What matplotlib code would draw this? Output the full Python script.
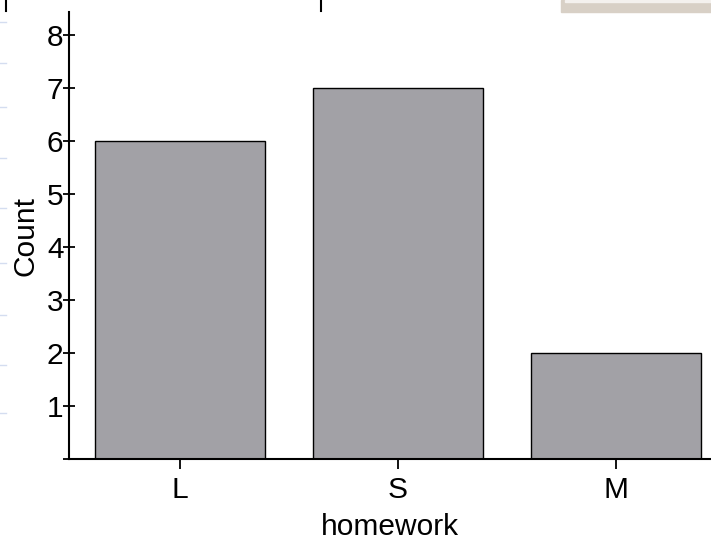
import matplotlib.pyplot as plt
from matplotlib.patches import Rectangle
from matplotlib.lines import Line2D

plt.rcParams['font.family'] = ['Liberation Sans', 'DejaVu Sans']

categories = ['L', 'S', 'M']
counts = [6, 7, 2]
y_ticks = [0, 1, 2, 3, 4, 5, 6, 7, 8]
y_tick_labels = ['', '1', '2', '3', '4', '5', '6', '7', '8']

fig = plt.figure(figsize=(7.11, 5.45), dpi=100)
ax = fig.add_axes([69 / 711, 1 - 459 / 545, 642 / 711, 447 / 545])

ax.bar(range(len(categories)), counts, width=0.78, color='#a2a1a6',
       edgecolor='black', linewidth=1)

ax.set_xlim(-0.509, 2.436)
ax.set_ylim(0, 8.43)
ax.set_xticks(range(len(categories)))
ax.set_xticklabels(categories)
ax.set_yticks(y_ticks)
ax.set_yticklabels(y_tick_labels)

for s in ['top', 'right']:
    ax.spines[s].set_visible(False)
for s in ['left', 'bottom']:
    ax.spines[s].set_linewidth(1.5)

ax.tick_params(axis='y', direction='inout', length=8, width=1.3, labelsize=21.5, pad=0)
ax.tick_params(axis='x', direction='out', length=7, width=1.3, labelsize=21.5, pad=5)
ax.set_ylabel('Count', fontsize=21.5, labelpad=5)
ax.set_xlabel('homework', fontsize=21.5, labelpad=7)

# bits of the surrounding window cropped into the picture
fig.patches.append(Rectangle((561 / 711, 1 - 12 / 545), 150 / 711, 12 / 545,
                             transform=fig.transFigure, color='#d8d0c6', zorder=0))
fig.patches.append(Rectangle((565 / 711, 1 - 2 / 545), 146 / 711, 2 / 545,
                             transform=fig.transFigure, color='#f4f1ee', zorder=1))
for xp in [6, 321]:
    fig.lines.append(Line2D([xp / 711, xp / 711], [1, 1 - 11 / 545],
                            transform=fig.transFigure, color='black', linewidth=1.5))
for yp in [22, 63, 107, 158, 208, 263, 315, 365, 413]:
    fig.lines.append(Line2D([0, 6 / 711], [1 - yp / 545, 1 - yp / 545],
                            transform=fig.transFigure, color='#d4ddf0', linewidth=1))

fig.savefig('out.png', dpi=100)
